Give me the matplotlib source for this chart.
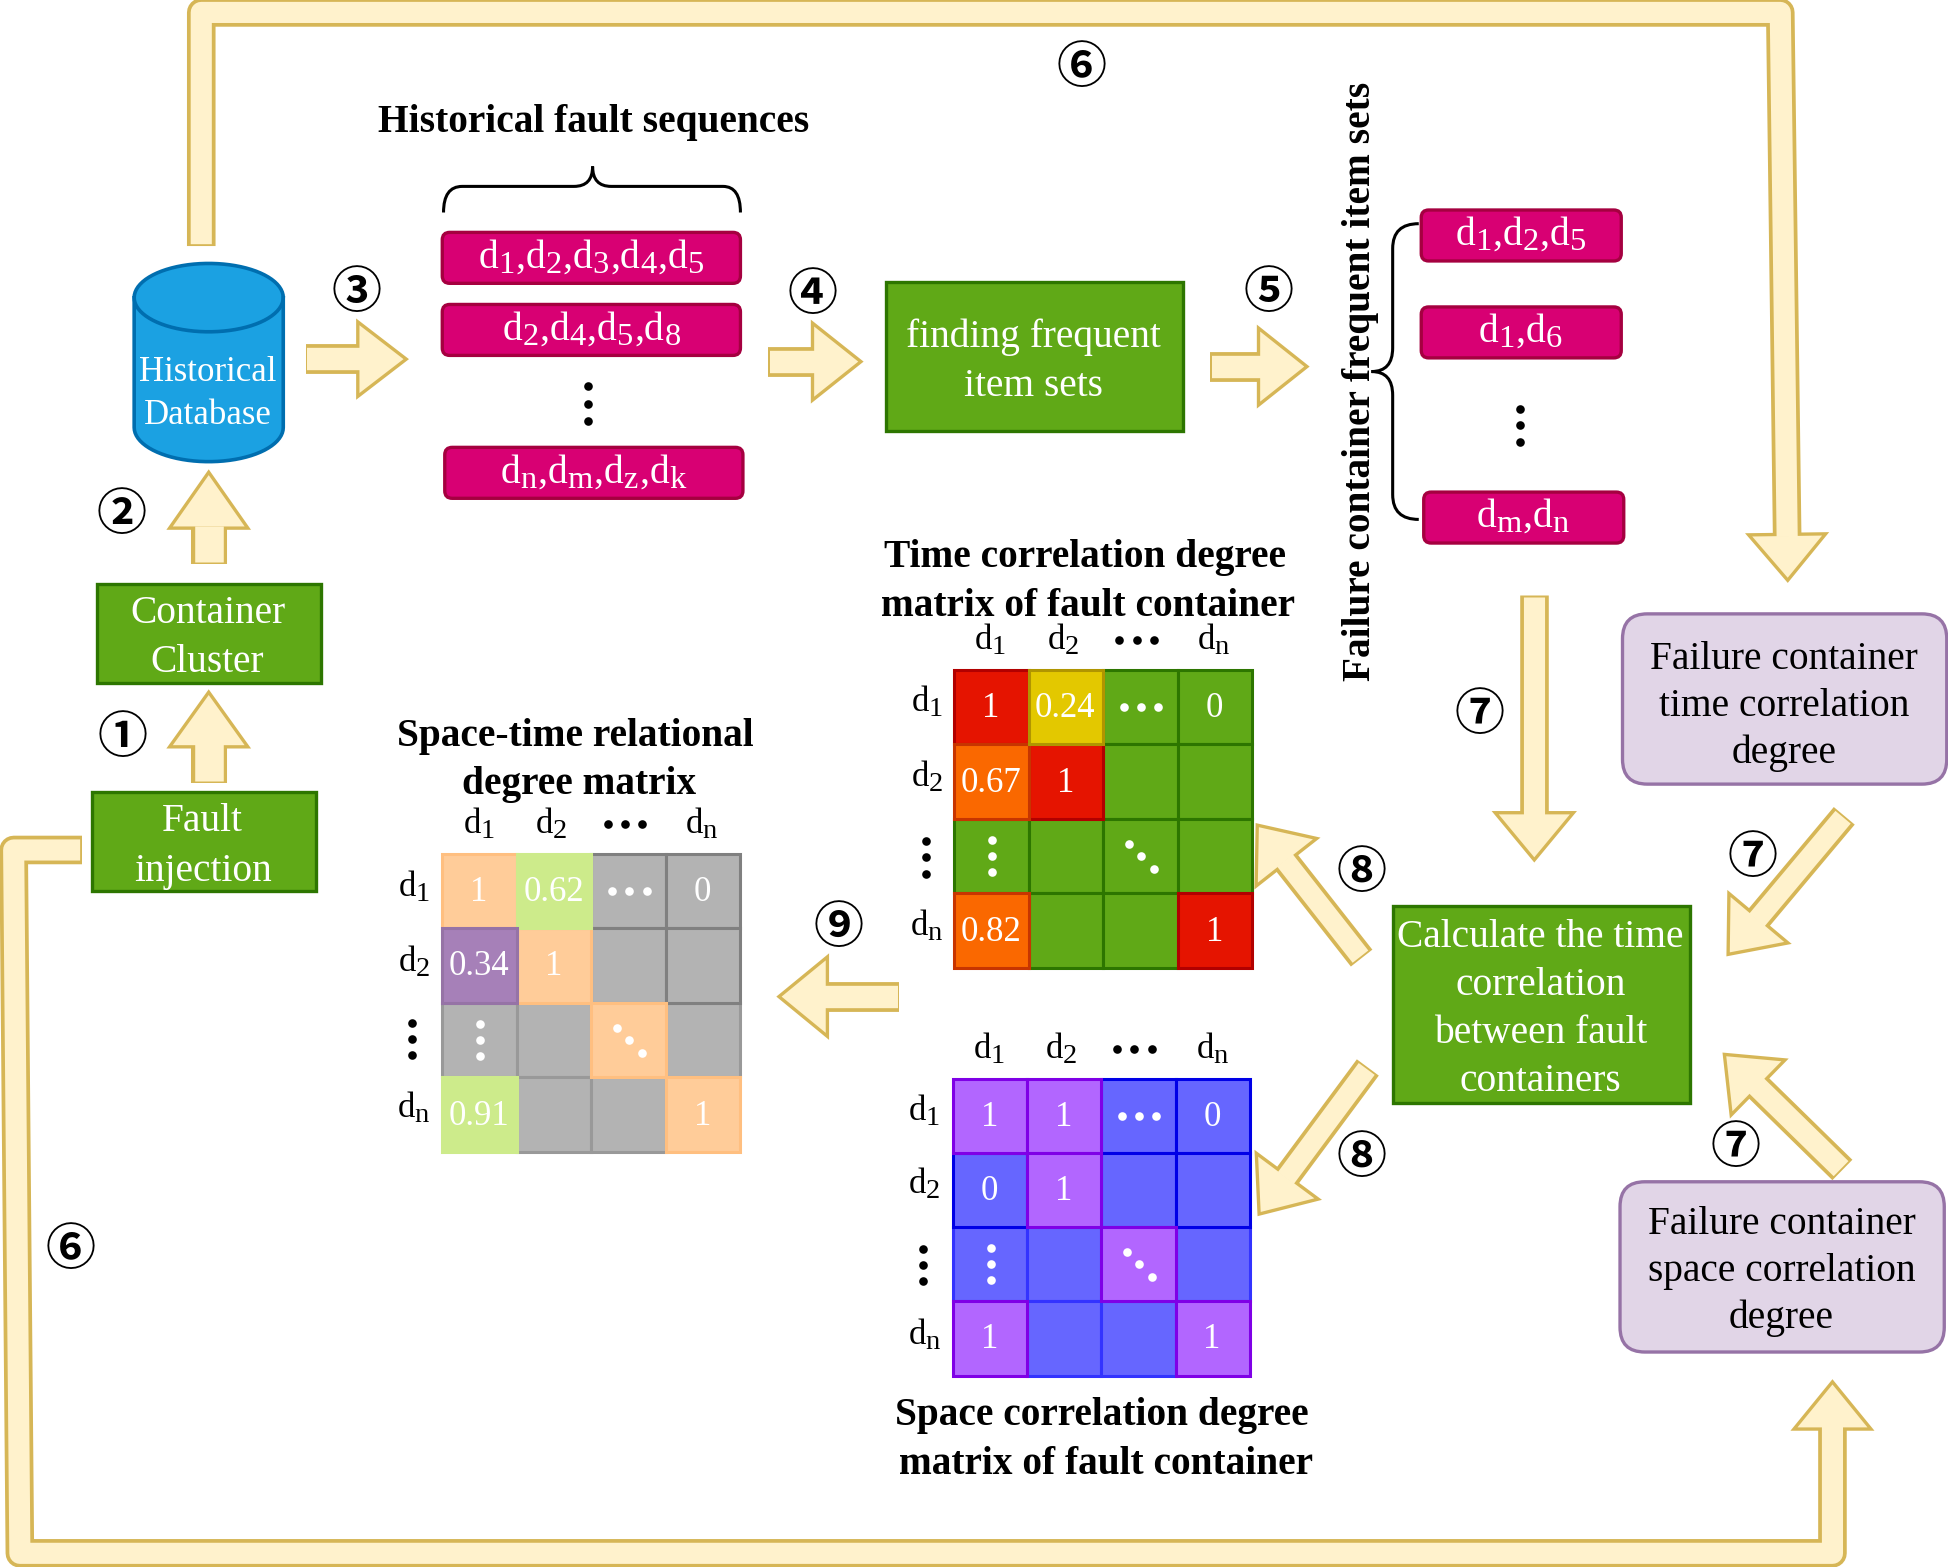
import numpy as np
import matplotlib as mpl
mpl.use('Agg')
import matplotlib.pyplot as plt
import matplotlib._mathtext as mathtext_internals
from matplotlib.patches import FancyBboxPatch, Polygon, Rectangle, PathPatch
from matplotlib.path import Path

mpl.rcParams['font.family'] = ['Liberation Serif', 'DejaVu Serif']
mpl.rcParams['mathtext.fontset'] = 'custom'
mpl.rcParams['mathtext.rm'] = 'Liberation Serif'
mpl.rcParams['mathtext.default'] = 'regular'

#Subscripts in the picture are larger and sit lower than the mathtext defaults
mathtext_internals.SHRINK_FACTOR = 0.82
mathtext_internals.FontConstantsBase.subdrop = 0.65

#Matrix contents: ':' '...' and '\\' stand for the three dot patterns
matrix_headers = ['d$_1$', 'd$_2$', '...', 'd$_n$']
time_values = [['1', '0.24', '...', '0'], ['0.67', '1', '', ''], [':', '', '\\', ''], ['0.82', '', '', '1']]
time_kinds = [['r', 'y', 'g', 'g'], ['o', 'r', 'g', 'g'], ['g', 'g', 'g', 'g'], ['o', 'g', 'g', 'r']]
space_values = [['1', '1', '...', '0'], ['0', '1', '', ''], [':', '', '\\', ''], ['1', '', '', '1']]
space_kinds = [['v', 'v', 'b', 'b'], ['b', 'v', 'b', 'b'], ['B', 'B', 'v', 'B'], ['v', 'B', 'B', 'v']]
st_values = [['1', '0.62', '...', '0'], ['0.34', '1', '', ''], [':', '', '\\', ''], ['0.91', '', '', '1']]
st_kinds = [['c', 'l', 'a', 'a'], ['p', 'c', 'a', 'a'], ['A', 'A', 'c', 'A'], ['l', 'A', 'A', 'c']]

history_sets = ['d$_1$,d$_2$,d$_3$,d$_4$,d$_5$', 'd$_2$,d$_4$,d$_5$,d$_8$', 'd$_n$,d$_m$,d$_z$,d$_k$']
frequent_sets = ['d$_1$,d$_2$,d$_5$', 'd$_1$,d$_6$', 'd$_m$,d$_n$']

CELL = {
    'r': ('#e51400', '#b20000'), 'o': ('#fa6800', '#c73500'), 'y': ('#e3c800', '#b09500'),
    'g': ('#60a917', '#2d7600'), 'v': ('#b266ff', '#7f00e6'), 'b': ('#6666ff', '#0000e6'),
    'B': ('#6666ff', '#3333ff'), 'c': ('#ffcc99', '#ffbf80'), 'l': ('#cdeb8b', '#cdeb8b'),
    'a': ('#b3b3b3', '#808080'), 'A': ('#b3b3b3', '#999999'), 'p': ('#a680b8', '#9673a6'),
}
#Cells are stacked in this order so that edges overlap as in the picture
STACK = 'BAgbavcrloyp'
GREEN = CELL['g']
PINK = ('#d80073', '#a50040')
LILAC = ('#e1d5e7', '#9673a6')
ARROW_FILL = '#fff2cc'
ARROW_EDGE = '#d6b656'

#Axes units are 1/1.2423 of an output pixel
UNIT = 1948 / 1568 * 72 / 100

fig = plt.figure(figsize=(19.48, 15.67), dpi=100)
ax = fig.add_axes([0, 0, 1, 1])
ax.set_xlim(0, 1568)
ax.set_ylim(1261, 0)
ax.axis('off')


def arrow(pts, w=22, hw=62, hl=40, z=2):
    pts = np.array(pts, dtype=float)
    tip = pts[-1]
    d = tip - pts[-2]
    d = d / np.hypot(*d)
    n = np.array([-d[1], d[0]])
    base = tip - d * hl
    ax.plot(*np.r_[pts[:-1], [base]].T, color=ARROW_EDGE, lw=(w + 3) * UNIT, solid_joinstyle='round',
            solid_capstyle='butt', zorder=z)
    ax.add_patch(Polygon([tip, base + n * hw / 2, base - n * hw / 2], closed=True, fc=ARROW_FILL,
                         ec=ARROW_EDGE, lw=2.4, joinstyle='miter', zorder=z))
    #Fill stroke stops short of the tail so the end line stays visible
    t = pts[1] - pts[0]
    t = t / np.hypot(*t)
    inner = np.r_[[pts[0] + t * 1.5], pts[1:-1], [base + d * 2]]
    ax.plot(*inner.T, color=ARROW_FILL, lw=(w - 3) * UNIT, solid_joinstyle='round',
            solid_capstyle='butt', zorder=z)


def box(x0, y0, x1, y1, style, rad=0.0, lw=2.4):
    kind = 'round,pad=0,rounding_size=%g' % rad if rad else 'square,pad=0'
    ax.add_patch(FancyBboxPatch((x0, y0), x1 - x0, y1 - y0, boxstyle=kind, fc=style[0], ec=style[1], lw=lw, zorder=3))


def lines(x, first_y, gap, rows, size=28.4, color='white', weight='normal'):
    for i, row in enumerate(rows):
        ax.text(x, first_y + i * gap, row, ha='center', va='baseline', fontsize=size, color=color,
                fontweight=weight, zorder=5)


def dots(xs, ys, color='black', size=6.2):
    ax.plot(xs, ys, 'o', color=color, ms=size, mew=0, ls='none', zorder=5)


def dot_pattern(kind, cx, cy, color):
    if kind == '...':
        dots([cx - 14, cx, cx + 14], [cy] * 3, color)
    elif kind == ':':
        dots([cx] * 3, [cy - 13, cy, cy + 13], color)
    elif kind == '\\':
        dots([cx - 10, cx, cx + 10], [cy - 10, cy, cy + 10], color)


def matrix(x0, y0, size, values, kinds, col_x, col_y, row_x, row_y):
    s = size / 4
    order = sorted((STACK.index(kinds[r][c]), r, c) for r in range(4) for c in range(4))
    for _, r, c in order:
        fc, ec = CELL[kinds[r][c]]
        ax.add_patch(Rectangle((x0 + c * s, y0 + r * s), s, s, fc=fc, ec=ec, lw=2.2, zorder=3))
    for r in range(4):
        for c in range(4):
            cx, cy = x0 + (c + .5) * s + 0.5, y0 + (r + .5) * s
            v = values[r][c]
            if v in ('...', ':', '\\'):
                dot_pattern(v, cx, cy, 'white')
            elif v:
                ax.text(cx - 1, cy + 8, v, ha='center', va='baseline', fontsize=25, color='white', zorder=5)
    for i, label in enumerate(matrix_headers):
        if label == '...':
            dot_pattern('...', col_x[i], col_y - 1, 'black')
            dot_pattern(':', row_x - 1, row_y[2], 'black')
        else:
            j = i if i < 2 else 3
            ax.text(col_x[i], col_y + 7, label, ha='center', va='baseline', fontsize=25, zorder=5)
            ax.text(row_x, row_y[j] + 7, label, ha='center', va='baseline', fontsize=25, zorder=5)


def curve(verts, codes):
    ax.add_patch(PathPatch(Path(verts, codes), fc='none', ec='black', lw=2.2, zorder=4))


M, L, C = Path.MOVETO, Path.LINETO, Path.CURVE3

#Long return arrows
arrow([(162, 198), (162, 10), (1433, 10), (1439, 467)], w=20, hw=62, hl=37)
arrow([(66, 684), (11, 684), (16, 1250), (1475, 1250), (1475, 1112)], w=20, hw=62, hl=38)

#Short arrows
arrow([(168, 630), (168, 557)], w=26, hw=63, hl=44)
arrow([(168, 454), (168, 380)], w=26, hw=63, hl=45)
arrow([(246, 289), (327, 289)], w=21, hw=60, hl=39)
arrow([(618, 291), (693, 291)], w=21, hw=62, hl=39)
arrow([(974, 295), (1052, 295)], w=21, hw=62, hl=39)
arrow([(1235, 479), (1235, 692)], w=20, hw=63, hl=38)
arrow([(1484.5, 656.5), (1391, 768)], w=19, hw=62, hl=38)
arrow([(1483, 941.5), (1388, 848.5)], w=20, hw=62, hl=38)
arrow([(1096, 771), (1012, 664)], w=19, hw=62, hl=38)
arrow([(1101, 859), (1013.5, 977)], w=19, hw=62, hl=38)
arrow([(724, 802), (627, 802)], w=21, hw=64, hl=39)

#Green boxes
box(74, 637, 254, 717, GREEN)
lines(163, 669, 40, ['Fault', 'injection'])
box(78, 470, 258, 550, GREEN)
lines(167, 501, 40, ['Container', 'Cluster'])
box(713, 227, 952, 347, GREEN)
lines(832, 279, 40, ['finding frequent', 'item sets'])
box(1121, 729, 1360, 888, GREEN)
lines(1240, 762, 38.7, ['Calculate the time', 'correlation', 'between fault', 'containers'])

#Lilac boxes
box(1306, 494, 1567, 631, LILAC, rad=20)
lines(1436, 538, 38, ['Failure container', 'time correlation', 'degree'], color='black')
box(1304, 951, 1565, 1088, LILAC, rad=20)
lines(1434, 993, 38, ['Failure container', 'space correlation', 'degree'], color='black')

#Database cylinder
a = np.linspace(0, np.pi, 40)
top_y, bottom_y, ry = 239.5, 344, 27.5
body = np.r_[np.c_[168 + 60 * np.cos(a), bottom_y + ry * np.sin(a)],
             np.c_[168 - 60 * np.cos(a), top_y - ry * np.sin(a)]]
ax.add_patch(Polygon(body, closed=True, fc='#1ba1e2', ec='#006eaf', lw=2.6, zorder=3))
ax.plot(168 + 60 * np.cos(a), top_y + ry * np.sin(a), color='#006eaf', lw=2.6, zorder=4)
lines(167, 307, 34, ['Historical', 'Database'], size=25)

#Sequence boxes
for (x0, y0), label in zip([(356, 187), (356, 245), (358, 360)], history_sets):
    box(x0, y0, x0 + 240, y0 + 41, PINK, rad=6)
    ax.text(x0 + 120, y0 + 28, label, ha='center', va='baseline', fontsize=28.5, color='white', zorder=5)
for (x0, y0), label in zip([(1144, 169), (1144, 247), (1146, 396)], frequent_sets):
    box(x0, y0, x0 + 161, y0 + 41, PINK, rad=6)
    ax.text(x0 + 80, y0 + 28, label, ha='center', va='baseline', fontsize=28.5, color='white', zorder=5)
dots([473] * 3, [311, 325, 339])
dots([1223.5] * 3, [329, 342, 356])

#Braces
curve([(357, 171), (357, 150), (372, 150), (462, 150), (477, 150), (477, 134),
       (477, 150), (492, 150), (582, 150), (596, 150), (596, 171)],
      [M, C, C, L, C, C, C, C, L, C, C])
curve([(1142, 180), (1121, 180), (1121, 200), (1121, 280), (1121, 299), (1104, 299),
       (1121, 299), (1121, 318), (1121, 398), (1121, 418), (1142, 418)],
      [M, C, C, L, C, C, C, C, L, C, C])

#Titles
lines(478, 106, 0, ['Historical fault sequences'], color='black', weight='bold')
lines(873.5, 456, 0, ['Time correlation degree'], color='black', weight='bold')
lines(876, 496, 0, ['matrix of fault container'], color='black', weight='bold')
lines(463, 600, 0, ['Space-time relational'], color='black', weight='bold')
lines(466, 639, 0, ['degree matrix'], color='black', weight='bold')
lines(887, 1147, 0, ['Space correlation degree'], color='black', weight='bold')
lines(890, 1186, 0, ['matrix of fault container'], color='black', weight='bold')
ax.text(1095, 307, 'Failure container frequent item sets', rotation=90, ha='center', va='center',
        fontsize=28.4, fontweight='bold', zorder=5)

#Matrices
matrix(768, 539, 240, time_values, time_kinds, [797, 856, 915, 977], 516, 746, [566, 626, 690, 746])
matrix(767, 868, 239, space_values, space_kinds, [796, 854, 913, 976], 845, 744, [895, 954, 1018, 1075])
matrix(356, 687, 240, st_values, st_kinds, [386, 444, 503, 565], 664, 333, [715, 775, 836, 893])

#Step numbers
steps = [('①', 99, 590), ('②', 98, 411), ('③', 287, 232), ('④', 654, 234), ('⑤', 1021, 232),
         ('⑥', 871, 51), ('⑥', 57, 1002), ('⑦', 1191, 572), ('⑦', 1411, 687), ('⑦', 1397, 920),
         ('⑧', 1096, 699), ('⑧', 1096, 928), ('⑨', 675, 743)]
for label, x, y in steps:
    ax.text(x, y + 4, label, ha='center', va='center', fontsize=36, fontweight='bold',
            family=['Noto Sans CJK SC', 'DejaVu Sans'], zorder=5)

fig.savefig('out.png', dpi=100, facecolor='white')
